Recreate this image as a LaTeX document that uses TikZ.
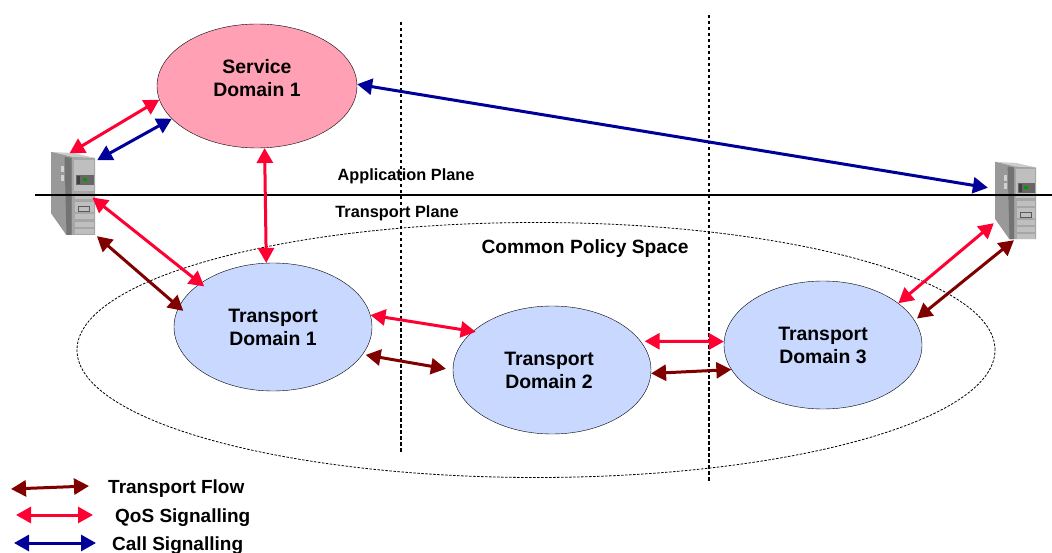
\documentclass[tikz,border=0pt]{standalone}
\usepackage{fontspec}
\setmainfont{Liberation Sans}
\usepackage{xcolor}
\usepackage{tikz}
\usetikzlibrary{shapes,arrows.meta}
\usetikzlibrary{positioning}
\definecolor{qosred}{HTML}{FF0033}
\definecolor{flowred}{HTML}{800000}
\definecolor{callblue}{HTML}{000099}
\definecolor{svcpink}{HTML}{FFA0B4}
\definecolor{tptblue}{HTML}{C8D8FF}
\tikzstyle{dombox} = [ellipse, draw, inner sep=0pt, align=center, font=\fontsize{19.4}{23}\selectfont\bfseries]
\tikzstyle{svcbox} = [dombox, fill=svcpink, minimum width=200pt, minimum height=124pt]
\tikzstyle{tptbox} = [dombox, fill=tptblue, minimum width=198pt, minimum height=128pt]
\tikzstyle{srvbox} = [rectangle, inner sep=0pt, minimum width=47pt, minimum height=84pt]
\tikzstyle{lbl} = [inner sep=0pt, font=\fontsize{19}{22}\selectfont\bfseries]
\tikzstyle{planelbl} = [lbl, font=\fontsize{16.3}{20}\selectfont\bfseries]
\tikzstyle{bordline} = [line width=1.1pt, dash pattern=on 3.5pt off 2.5pt]
\tikzstyle{arrqos} = [qosred, line width=3pt, {Triangle[length=15pt,width=16pt]}-{Triangle[length=15pt,width=16pt]}]
\tikzstyle{arrflow} = [arrqos, flowred]
\tikzstyle{arrcall} = [arrqos, callblue]
\tikzset{
  server/.pic={
    \fill[gray!75] (-22.5,-42) -- (21.5,-36) -- (21.5,41) -- (-7,41) -- (-22.5,19) -- cycle;
    \fill[gray!40] (-22.5,-42) -- (-1,-37) -- (21.5,-36) -- (0,-41) -- cycle;
    \fill[gray!70] (-2,-36) rectangle (21.5,41);
    \fill[gray!80] (-22.5,-42) -- (-2,-37) -- (-2,41) -- (-7,41) -- (-22.5,19) -- cycle;
    \fill[gray!110] (-9,-37) -- (-2,-36) -- (-2,41) -- (-7,41) -- cycle;
    \fill[gray!50] (0,-34) rectangle (20,-3);
    \fill[gray!120] (2,-19) rectangle (20,-9);
    \fill[black!75] (3,-18) rectangle (6,-10);
    \fill[green!60!black] (9,-16) rectangle (13,-13);
    \fill[gray!35] (-13,-28) rectangle (-10,-22);
    \fill[gray!35] (-13,-19) rectangle (-10,-13);
    \foreach \y in {0,20,28,35} {\fill[gray!50] (1,\y) rectangle (20,\y+5.5);}
    \fill[gray!50] (1,8) rectangle (20,18);
    \draw[gray!130] (5,12) rectangle (16,17);
  }
}
\begin{document}
\begin{tikzpicture}[x=1pt, y=-1pt]
  \useasboundingbox (0,0) rectangle (1052,553);
  % Place nodes
  \node [ellipse, draw, line width=.8pt, dash pattern=on 2.5pt off 1.5pt, minimum width=918pt, minimum height=255pt, inner sep=0pt] (space) at (536,350) {};

  \node [svcbox] (sd1) at (257,86) {Service\\Domain 1\\[-14pt]\strut};
  \node [tptbox] (td1) at (273,327) {Transport\\Domain 1};
  \node [tptbox] (td2) at (552,370) {\hspace{-6pt}Transport\\\hspace{-6pt}Domain 2};
  \node [tptbox] (td3) at (823,345) {Transport\\Domain 3};

  \node [srvbox] (srv1) at (73.5,194) {};
  \node [srvbox, minimum width=44pt, minimum height=78pt] (srv2) at (1016,201) {};
  \pic at (srv1) {server};
  \pic [scale=.93] at (srv2) {server};

  \node [planelbl] (app) at (406,176) {Application Plane};
  \node [planelbl] (tpt) at (397,213) {Transport Plane};
  \node [lbl, font=\fontsize{19.2}{22}\selectfont\bfseries] (common) at (585,249) {Common Policy Space};

  % plane and borders
  \coordinate (planeL) at (35,195);
  \coordinate (planeR) at (1052,195);
  \coordinate (bordA1) at (401,22);
  \coordinate (bordA2) at (401,452);
  \coordinate (bordB1) at (709,15);
  \coordinate (bordB2) at (709,481);
  \draw [line width=1.1pt] (planeL) -- (planeR);
  \draw [bordline] (bordA1) -- (bordA2);
  \draw [bordline] (bordB1) -- (bordB2);

  % signalling
  \draw [arrqos, shorten <=-3pt] (srv1.92) -- (sd1.188);
  \draw [arrcall] (srv1.55) -- (sd1.201);
  \draw [arrqos] (sd1.277) -- (td1.96);
  \draw [arrcall, shorten >=6pt] (sd1.1) -- (srv2.151);
  \draw [arrqos, shorten <=-6pt, shorten >=-5pt] (srv1.343) -- (td1.149);
  \draw [arrflow, shorten >=-6pt] (srv1.299) -- (td1.168);
  \draw [arrqos, shorten >=-3pt] (td1.7) -- (td2.154);
  \draw [arrflow, shorten <=3pt, shorten >=7pt] (td1.343) -- (td2.180);
  \draw [arrqos, shorten <=4pt] (td2.18) -- (td3.178);
  \draw [arrflow] (td2.358) -- (td3.195);
  \draw [arrqos] (td3.29) -- (srv2.225);
  \draw [arrflow, shorten <=3pt] (td3.15) -- (srv2.267);

  % legend
  \node [lbl, anchor=west] (legflow) at (108,489) {Transport Flow};
  \node [lbl, anchor=west] (legqos) at (115,518) {QoS Signalling};
  \node [lbl, anchor=west] (legcall) at (112,546) {Call Signalling};
  \coordinate (flowA) at (11,489);
  \coordinate (flowB) at (89,486);
  \coordinate (qosA) at (16,515);
  \coordinate (qosB) at (93,515);
  \coordinate (callA) at (14,543);
  \coordinate (callB) at (96,543);
  \draw [arrflow] (flowA) -- (flowB);
  \draw [arrqos] (qosA) -- (qosB);
  \draw [arrcall] (callA) -- (callB);
\end{tikzpicture}
\end{document}
